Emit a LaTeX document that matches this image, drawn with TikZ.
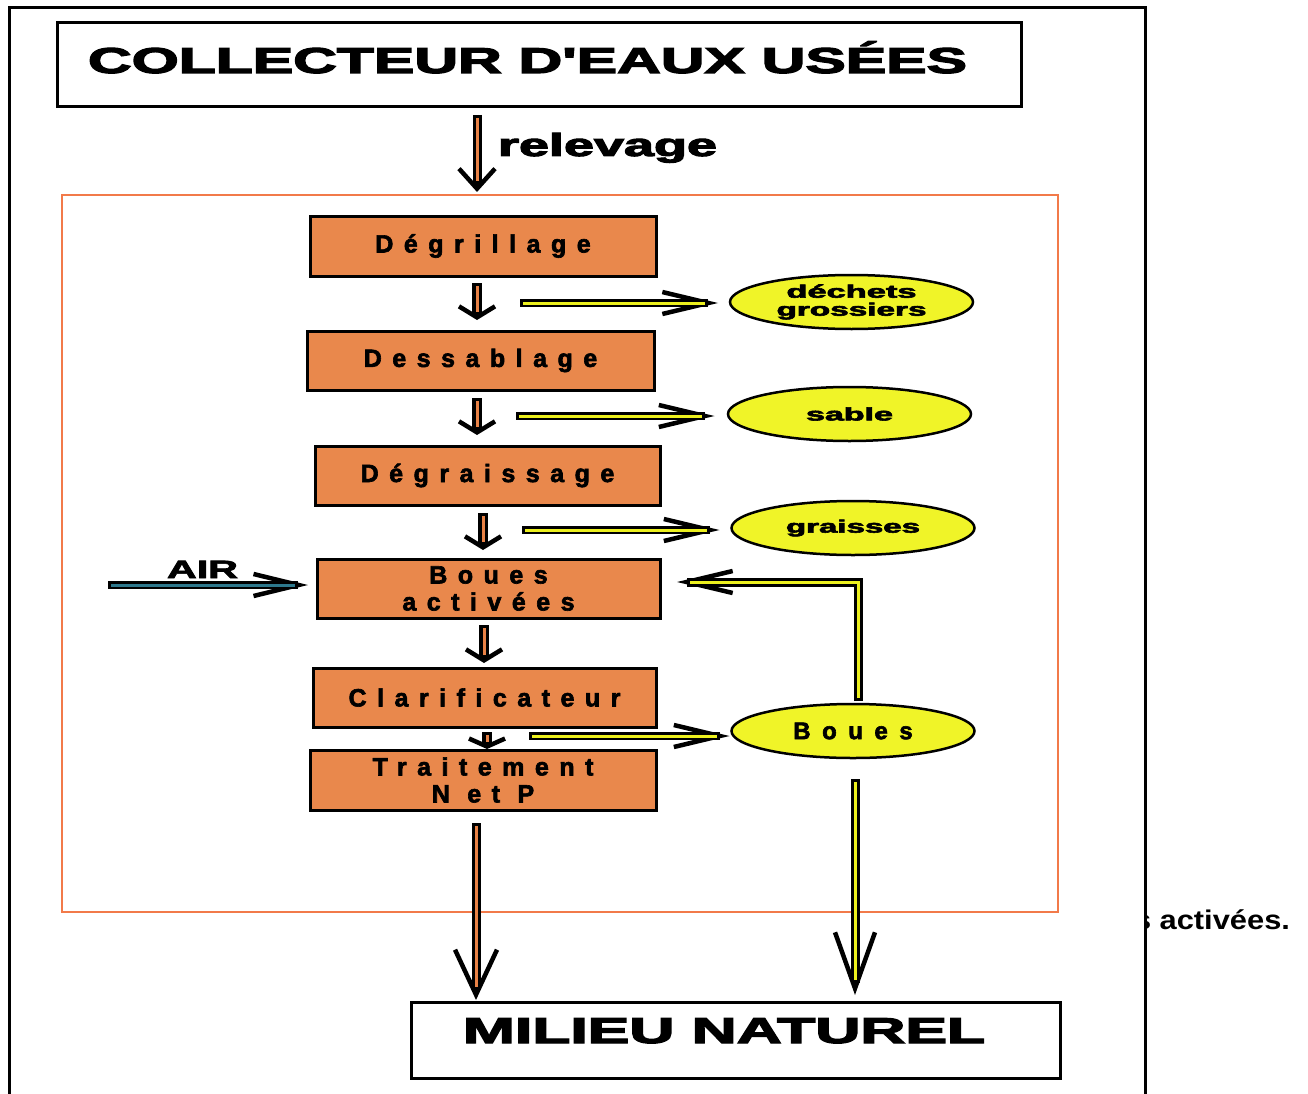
\documentclass[tikz,border=0pt]{standalone}
\usepackage{fontspec}
\usepackage{graphicx}
\setmainfont{Liberation Sans}
\newfontfamily\heavy{Liberation Sans Bold}[FakeBold=2.5]
\newfontfamily\xheavy{Liberation Sans Bold}[FakeBold=3]
\usetikzlibrary{arrows.meta,shapes.geometric}
\definecolor{boxorange}{RGB}{233,136,76}
\definecolor{frameorange}{RGB}{242,122,74}
\definecolor{pipeorange}{RGB}{233,130,70}
\definecolor{ellyellow}{RGB}{240,244,40}
\definecolor{pipeyellow}{RGB}{236,240,30}
\definecolor{airteal}{RGB}{45,120,140}
\tikzset{
  every node/.style={inner sep=0pt, outer sep=0pt},
  stepbox/.style={draw=black, line width=3pt, fill=boxorange, align=center,
     font=\heavy\fontsize{25}{27}\selectfont\addfontfeature{LetterSpace=42}},
  product/.style={ellipse, draw=black, line width=2.5pt, fill=ellyellow,
     minimum width=243pt, minimum height=54pt, align=center,
     font=\xheavy\fontsize{18}{18}\selectfont},
  whitebox/.style={draw=black, line width=3pt, fill=white},
  title/.style={font=\xheavy\fontsize{36}{40}\selectfont, anchor=base west},
  pipeout/.style={draw=black, line width=#1, line join=miter, line cap=butt},
  pipecore/.style={draw=#1, line width=3pt, line join=miter, line cap=butt},
  barb/.style={draw=black, line width=4.5pt, line join=miter},
}
% #1 core colour, #2 outline width, #3 start, #4 path to end, #5 head length, #6 head width, #7 outline shortening
\newcommand\pipearrow[7]{%
  \draw[barb, -{Straight Barb[length=#5, width=#6]}] #3 #4;
  \draw[pipeout=#2, shorten >=#7] #3 #4;
  \draw[pipecore=#1, shorten <=3pt, shorten >=#7+3pt] #3 #4;
}
\begin{document}
\begin{tikzpicture}[x=1pt,y=-1pt]
\useasboundingbox (0,0) rectangle (1308,1094);
\fill[white] (0,0) rectangle (1308,1094);
% outer frame
\draw[line width=3pt] (9,1094) -- (9,8) -- (1145,8) -- (1145,1094);

% top collector
\node[whitebox, minimum width=964pt, minimum height=84pt] (coll) at (539,65) {};
\node[title] (colltxt) at (88,73) {\resizebox{879pt}{\height}{COLLECTEUR D'EAUX USÉES}};

% plant frame
\node[draw=frameorange, line width=2.5pt, minimum width=996pt, minimum height=717pt] (plant) at (560,553.5) {};

% process steps
\node[stepbox, minimum width=346pt, minimum height=60pt] (degr) at (483,246) {Dégrillage};
\node[stepbox, minimum width=347pt, minimum height=59pt] (dess) at (480.5,360.5) {Dessablage};
\node[stepbox, minimum width=345pt, minimum height=59pt] (degra) at (487.5,475.5) {Dégraissage};
\node[stepbox, minimum width=343pt, minimum height=59pt] (boues) at (488.5,588.5) {Boues\\activées};
\node[stepbox, minimum width=343pt, minimum height=59pt] (clar) at (484.5,697.5) {Clarificateur};
\node[stepbox, minimum width=346pt, minimum height=60pt] (trait) at (483,780) {Traitement\\N et P};

% by-products
\node[product] (dech) at (851.5,302) {\resizebox{130pt}{\height}{déchets}\\\resizebox{150pt}{\height}{grossiers}};
\node[product] (sable) at (849.5,414) {\resizebox{87pt}{\height}{sable}};
\node[product] (gra) at (853,528) {\resizebox{134pt}{\height}{graisses}};
\node[product, font=\heavy\fontsize{24}{24}\selectfont\addfontfeature{LetterSpace=48}] (bouesE) at (853,731) {Boues};

% natural environment
\node[whitebox, minimum width=649pt, minimum height=76pt] (milieu) at (735.5,1040) {};
\node[title] (milieutxt) at (463,1043) {\resizebox{522pt}{\height}{MILIEU NATUREL}};

% labels
\node[font=\xheavy\fontsize{32}{32}\selectfont, anchor=base west] (relv) at (498,156) {\resizebox{219pt}{\height}{relevage}};
\node[font=\heavy\fontsize{25}{28}\selectfont, anchor=base west] (airlbl) at (167,578) {\resizebox{71pt}{\height}{AIR}};
\begin{scope}
\clip (1147.5,880) rectangle (1308,960);
\node[font=\bfseries\fontsize{27}{30}\selectfont, anchor=base east] (note) at (1290,929) {\resizebox{156pt}{\height}{s activées.}};
\end{scope}

% relevage arrow
\coordinate (relA) at ([shift={(-62,8)}]coll.south);
\path (relA |- plant.north) ++(0,-3) coordinate (relB);
\pipearrow{pipeorange}{9pt}{(relA)}{-- (relB)}{20pt}{36pt}{8pt}

% main line arrows
\pipearrow{pipeorange}{10pt}{([shift={(-6,7)}]degr.south)}{-- ([shift={(-3.5,-11)}]dess.north)}{11pt}{36pt}{5pt}
\pipearrow{pipeorange}{10pt}{([shift={(-3.5,8)}]dess.south)}{-- ([shift={(-10.5,-11)}]degra.north)}{11pt}{36pt}{5pt}
\pipearrow{pipeorange}{10pt}{([shift={(-4.5,8)}]degra.south)}{-- ([shift={(-5.5,-9)}]boues.north)}{11pt}{36pt}{5pt}
\pipearrow{pipeorange}{10pt}{([shift={(-4.5,7)}]boues.south)}{-- ([shift={(-0.5,-5)}]clar.north)}{11pt}{36pt}{5pt}
\pipearrow{pipeorange}{10pt}{([shift={(2.5,5)}]clar.south)}{-- ([shift={(4,-1)}]trait.north)}{8pt}{36pt}{4pt}

% to by-products
\pipearrow{pipeyellow}{8pt}{([shift={(37,27)}]degr.south)}{-- ([shift={(-12,1)}]dech.west)}{46pt}{22pt}{10pt}
\pipearrow{pipeyellow}{8pt}{([shift={(35.5,26)}]dess.south)}{-- ([shift={(-13.5,2)}]sable.west)}{46pt}{22pt}{10pt}
\pipearrow{pipeyellow}{8pt}{([shift={(34.5,25)}]degra.south)}{-- ([shift={(-12,2)}]gra.west)}{46pt}{22pt}{10pt}
\pipearrow{pipeyellow}{8pt}{([shift={(44.5,9)}]clar.south)}{-- ([shift={(-2,5)}]bouesE.west)}{46pt}{22pt}{10pt}

% sludge recirculation
\pipearrow{pipeyellow}{9pt}{([shift={(5,-3)}]bouesE.north)}{|- ([shift={(17,-6.5)}]boues.east)}{46pt}{22pt}{10pt}

% air
\coordinate (airA) at (108,585);
\pipearrow{airteal}{8pt}{(airA)}{-- ([shift={(-9,-3.5)}]boues.west)}{45pt}{22pt}{10pt}

% to natural environment
\coordinate (bdA) at ([shift={(-7,13)}]trait.south);
\path (bdA |- milieu.north) ++(0,-2) coordinate (bdB);
\pipearrow{pipeorange}{9pt}{(bdA)}{-- (bdB)}{45pt}{42pt}{10pt}
\coordinate (ydA) at ([shift={(2,21)}]bouesE.south);
\path (ydA |- milieu.north) ++(0,-7) coordinate (ydB);
\pipearrow{pipeyellow}{9pt}{(ydA)}{-- (ydB)}{56pt}{40pt}{12pt}
\end{tikzpicture}
\end{document}
